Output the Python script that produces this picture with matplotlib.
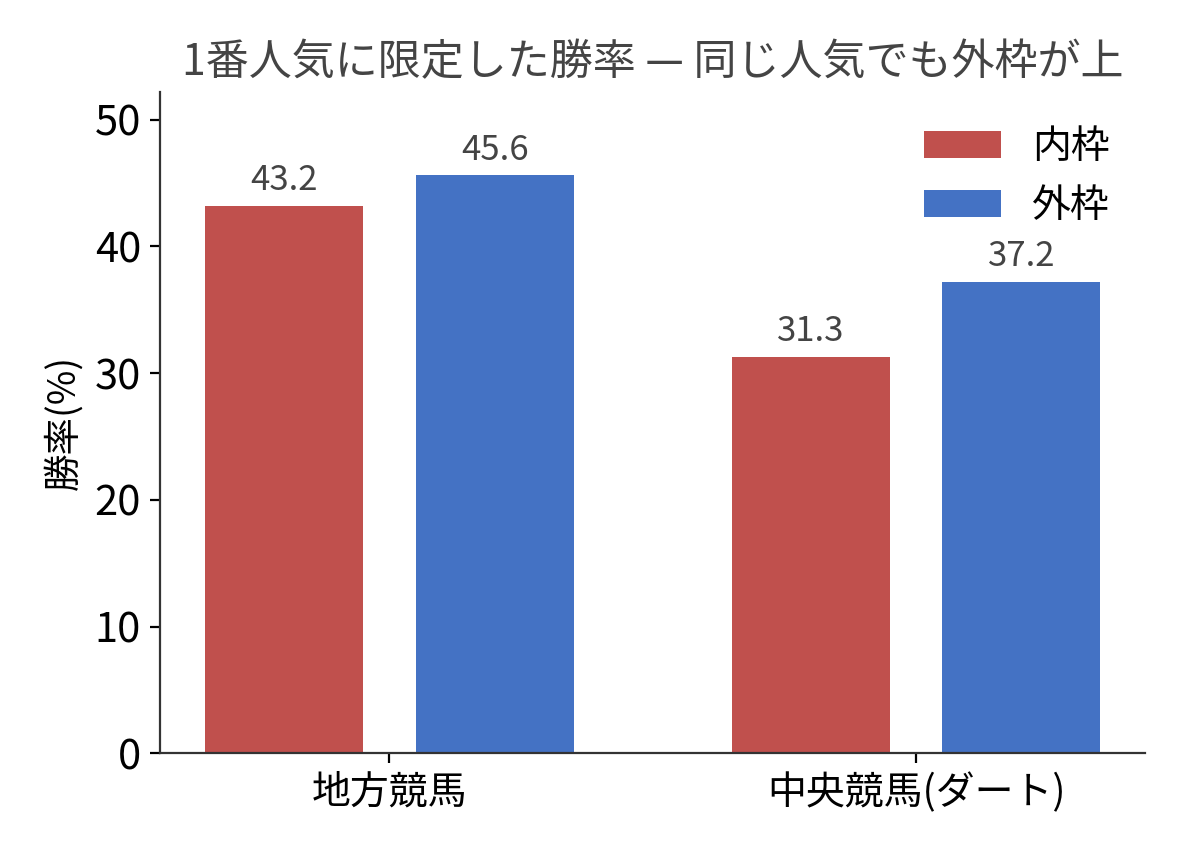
import matplotlib
matplotlib.use('Agg')
import matplotlib.pyplot as plt
import numpy as np

plt.rcParams['font.family'] = ['Noto Sans CJK JP', 'DejaVu Sans']

categories = ['地方競馬', '中央競馬(ダート)']
series_names = ['内枠', '外枠']
inner_rate = [43.2, 31.3]
outer_rate = [45.6, 37.2]
colors = ['#C0504D', '#4472C4']

x = np.arange(len(categories))
width = 0.3

fig, ax = plt.subplots(figsize=(5.94, 4.29), dpi=200)
bars1 = ax.bar(x - 0.2, inner_rate, width, color=colors[0], label=series_names[0])
bars2 = ax.bar(x + 0.2, outer_rate, width, color=colors[1], label=series_names[1])

for bars in (bars1, bars2):
    for b in bars:
        ax.text(b.get_x() + b.get_width() / 2, b.get_height() + 0.6,
                f'{b.get_height():.1f}', ha='center', va='bottom',
                fontsize=12.5, color='#444444')

ax.set_xticks(x)
ax.set_xticklabels(categories, fontsize=14)
ax.tick_params(axis='y', labelsize=15)
ax.set_ylabel('勝率(%)', fontsize=13.5)
ax.set_ylim(0, 52.2)
ax.set_title('1番人気に限定した勝率 — 同じ人気でも外枠が上', fontsize=15.5, color='#444444')
ax.spines['top'].set_visible(False)
ax.spines['right'].set_visible(False)
for s in ('left', 'bottom'):
    ax.spines[s].set_color('#333333')
ax.legend(frameon=False, fontsize=14, loc='upper right')

fig.subplots_adjust(left=0.135, right=0.964, bottom=0.122, top=0.893)
fig.savefig('out.png')
